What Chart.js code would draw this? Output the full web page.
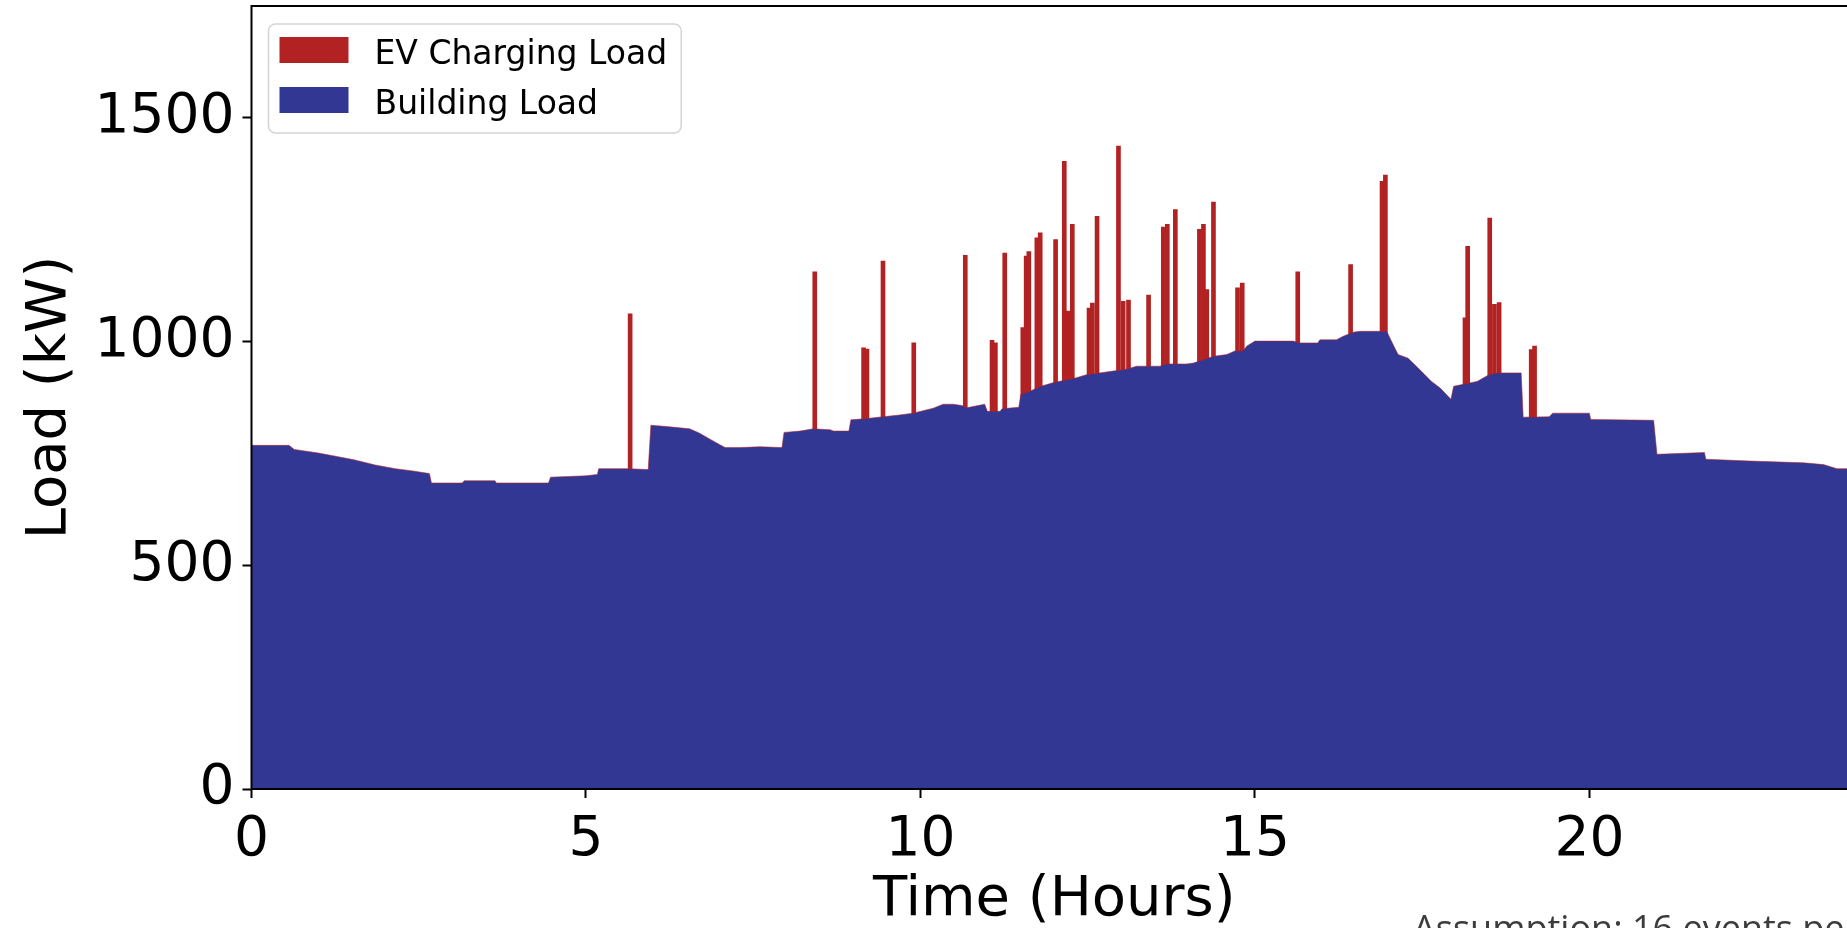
<!DOCTYPE html>
<html lang="en">
<head>
    <meta charset="UTF-8">
    <title>Building Load with EV Charging</title>
    <script src="https://cdn.jsdelivr.net/npm/chart.js"></script>
    <style>
        html, body { margin: 0; padding: 0; overflow: hidden; background: #fff; }
        #wrap { position: relative; width: 1900px; height: 940px; }
        #note {
            position: absolute; left: 1413px; top: 910px;
            font: 36px/1 "Open Sans", sans-serif; color: #3c3c3c; white-space: nowrap;
        }
    </style>
</head>
<body>
    <div id="wrap">
        <canvas id="loadChart"></canvas>
        <div id="note">Assumption: 16 events per</div>
    </div>

    <script>
        // building load profile, breakpoints (hours, kW)
        const buildingHours = [0.00, 0.56, 0.64, 1.00, 1.53, 1.85, 2.15, 2.41, 2.66, 2.69, 3.15, 3.18, 3.64, 3.66, 4.44, 4.47, 5.00, 5.17, 5.19, 5.62,
            5.93, 5.97, 6.21, 6.55, 6.70, 6.90, 7.08, 7.30, 7.60, 7.93, 7.96, 8.20, 8.40, 8.65, 8.70, 8.93, 8.96, 9.20, 9.44, 9.69,
            9.89, 10.19, 10.34, 10.49, 10.62, 10.69, 10.96, 11.00, 11.19, 11.22, 11.47, 11.50, 11.62, 11.80, 11.98, 12.33, 12.48, 12.68, 12.88, 13.08,
            13.23, 13.58, 13.68, 13.98, 14.08, 14.38, 14.58, 14.70, 14.82, 14.88, 15.00, 15.57, 15.67, 15.94, 15.97, 16.22, 16.32, 16.47, 16.57, 16.97,
            17.04, 17.14, 17.29, 17.44, 17.64, 17.77, 17.93, 17.97, 18.32, 18.50, 18.63, 18.98, 19.01, 19.40, 19.45, 20.00, 20.02, 20.96, 21.01, 21.72,
            21.74, 22.40, 23.20, 23.50, 23.70, 24.00];
        const buildingLoad = [768, 768, 759, 751, 736, 724, 716, 711, 705, 684, 684, 689, 689, 684, 684, 697, 700, 703, 716, 716,
            714, 813, 810, 805, 795, 778, 763, 763, 765, 763, 797, 800, 805, 803, 800, 800, 825, 828, 832, 836,
            840, 851, 860, 860, 857, 852, 860, 844, 844, 850, 853, 882, 888, 900, 908, 919, 926, 930, 934, 938,
            945, 945, 950, 950, 952, 967, 971, 979, 979, 990, 1001, 1001, 997, 997, 1004, 1004, 1012, 1021, 1023, 1023,
            1001, 971, 963, 941, 911, 896, 871, 900, 911, 926, 930, 930, 831, 832, 840, 840, 826, 824, 748, 752,
            737, 733, 729, 725, 716, 716];

        // EV charging events: time of each spike and the total load at its top (kW)
        const evHours = [5.66, 8.42, 9.15, 9.20, 9.44, 9.90, 10.67, 11.07, 11.12, 11.26, 11.53, 11.58, 11.62, 11.74, 11.79, 12.02,
            12.15, 12.20, 12.23, 12.27, 12.52, 12.57, 12.64, 12.96, 13.03, 13.11, 13.41, 13.63, 13.69, 13.81, 14.17, 14.23,
            14.28, 14.38, 14.74, 14.81, 15.64, 16.43, 16.90, 16.95, 18.14, 18.18, 18.51, 18.58, 18.65, 19.13, 19.18];
        const evPeakTotal = [1062, 1156, 986, 983, 1180, 997, 1193, 1003, 997, 1198, 1031, 1191, 1201, 1232, 1243, 1228,
            1403, 1068, 1064, 1262, 1075, 1086, 1280, 1437, 1090, 1093, 1104, 1256, 1262, 1295, 1251, 1262,
            1116, 1312, 1120, 1131, 1156, 1172, 1358, 1372, 1053, 1213, 1276, 1083, 1087, 982, 990];

        const hourTicks = [0, 5, 10, 15, 20];
        const loadTicks = [0, 500, 1000, 1500];

        const RED = '#b22222';
        const BLUE = '#333794';
        const FONT = 'DejaVu Sans';

        // axes frame (all four spines)
        const framePlugin = {
            id: 'frame',
            afterDatasetsDraw(chart) {
                const { ctx, chartArea: a } = chart;
                ctx.save();
                ctx.strokeStyle = '#000';
                ctx.lineWidth = 2;
                ctx.strokeRect(a.left, a.top, a.right - a.left, a.bottom - a.top);
                ctx.restore();
            }
        };

        // boxed legend in the upper left corner of the plot
        const legendPlugin = {
            id: 'boxLegend',
            afterDraw(chart) {
                const { ctx, chartArea } = chart;
                const items = [['EV Charging Load', RED], ['Building Load', BLUE]];
                ctx.save();
                ctx.font = '33px "' + FONT + '"';
                const textW = Math.max(...items.map(it => ctx.measureText(it[0]).width));
                const x0 = chartArea.left + 17, y0 = chartArea.top + 18;
                ctx.beginPath();
                ctx.roundRect(x0, y0, 106 + textW + 14, 109, 7);
                ctx.fillStyle = 'rgba(255,255,255,0.8)';
                ctx.fill();
                ctx.strokeStyle = '#d4d4d4';
                ctx.lineWidth = 1.5;
                ctx.stroke();
                items.forEach(([label, color], i) => {
                    const cy = y0 + 26 + i * 50;
                    ctx.fillStyle = color;
                    ctx.fillRect(x0 + 11, cy - 13, 69, 26);
                    ctx.fillStyle = '#000';
                    ctx.textBaseline = 'alphabetic';
                    ctx.fillText(label, x0 + 106, cy + 14);
                });
                ctx.restore();
            }
        };

        const ctx = document.getElementById('loadChart').getContext('2d');
        new Chart(ctx, {
            type: 'line',
            data: {
                datasets: [{
                    label: 'Building Load',
                    data: buildingHours.map((h, i) => ({ x: h, y: buildingLoad[i] })),
                    borderColor: 'rgba(178,34,34,0.55)',
                    borderWidth: 1,
                    backgroundColor: BLUE,
                    fill: 'origin',
                    pointRadius: 0,
                    tension: 0,
                    order: 1
                }, {
                    type: 'bar',
                    label: 'EV Charging Load',
                    data: evHours.map((h, i) => ({ x: h, y: evPeakTotal[i] })),
                    backgroundColor: RED,
                    barThickness: 4,
                    order: 2
                }]
            },
            options: {
                responsive: true,
                maintainAspectRatio: false,
                animation: false,
                layout: { padding: { top: 6, right: 43, left: 0, bottom: 0 } },
                plugins: {
                    legend: { display: false },
                    tooltip: { enabled: false }
                },
                scales: {
                    x: {
                        type: 'linear',
                        min: 0,
                        max: 24,
                        offset: false,
                        grid: { drawOnChartArea: false, offset: false, tickLength: 9, tickWidth: 2, tickColor: '#000' },
                        border: { display: false },
                        ticks: {
                            font: { family: FONT, size: 55 }, color: '#000', padding: 10, maxRotation: 0,
                            callback: v => String(v)
                        },
                        title: {
                            display: true,
                            text: 'Time (Hours)',
                            font: { family: FONT, size: 56 },
                            color: '#000',
                            padding: { top: 0, bottom: 6 }
                        },
                        afterBuildTicks: s => { s.ticks = hourTicks.map(v => ({ value: v })); },
                        afterFit: s => { s.height = 151; s.paddingLeft = 0; s.paddingRight = 0; }
                    },
                    y: {
                        min: 0,
                        max: 1750,
                        grid: { drawOnChartArea: false, tickLength: 9, tickWidth: 2, tickColor: '#000' },
                        border: { display: false },
                        ticks: {
                            font: { family: FONT, size: 55 }, color: '#000', padding: 8,
                            callback: v => String(v)
                        },
                        title: {
                            display: true,
                            text: 'Load (kW)',
                            font: { family: FONT, size: 56 },
                            color: '#000',
                            padding: { top: 17, bottom: 0 }
                        },
                        afterBuildTicks: s => { s.ticks = loadTicks.map(v => ({ value: v })); },
                        afterFit: s => { s.width = 251.5; s.paddingTop = 0; s.paddingBottom = 0; }
                    }
                }
            },
            plugins: [framePlugin, legendPlugin]
        });
    </script>
</body>
</html>
